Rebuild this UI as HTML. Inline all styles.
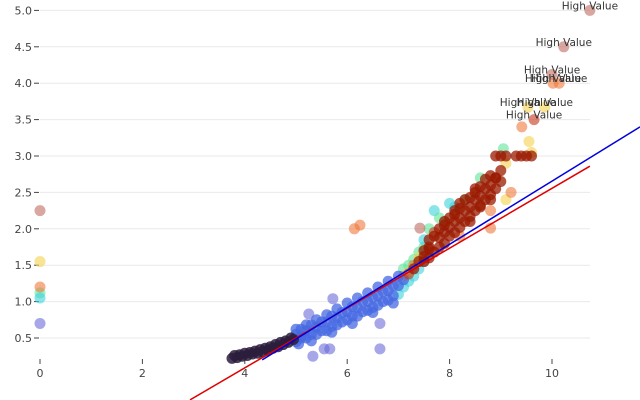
<!DOCTYPE html>
<html><head><meta charset="utf-8"><style>
html,body{margin:0;padding:0;background:#fff;}
svg{display:block;font-family:"DejaVu Sans","Liberation Sans",sans-serif;}
</style></head><body>
<svg id="chart" width="640" height="400" viewBox="0 0 640 400" xmlns="http://www.w3.org/2000/svg">
<g id="grid"></g>
<g id="axes"></g>
<g id="pts"></g>
<g id="lines"></g>
<g id="labels"></g>
</svg>
<script>
const xTicks=[0,2,4,6,8,10];
const yTicks=[0.5,1.0,1.5,2.0,2.5,3.0,3.5,4.0,4.5,5.0];
const palette={k:"#2b1d3c",b:"#4568e2",c:"#3ad4dc",g:"#5ee69a",y:"#f4d24c",o:"#ef7a3c",r:"#c8361a",R:"#9a1a00",h:"#c06a60",p:"#6a6ad8"};
const ptX=[3.75,3.85,3.95,4.05,4.15,4.25,4.35,4.45,4.55,4.65,4.75,4.85,4.0,4.2,4.4,4.6,4.8,4.95,
3.8,3.9,4.1,4.3,4.5,4.7,4.9,5.05,5.1,
5.0,5.0,5.0,5.2,5.2,5.2,5.4,5.4,5.4,5.6,5.6,5.6,5.8,5.8,5.8,6.0,6.0,6.0,6.2,6.2,6.2,6.4,6.4,6.4,6.6,6.6,6.6,6.8,6.8,6.8,7.0,7.0,7.0,
5.1,5.1,5.3,5.3,5.5,5.5,5.7,5.7,5.9,5.9,6.1,6.1,6.3,6.3,6.5,6.5,6.7,6.7,6.9,6.9,5.3,5.7,6.1,6.5,6.9,
5.72,5.25,5.33,5.55,5.66,6.64,6.64,
7.1,7.1,7.1,7.1,7.2,7.2,7.2,7.2,7.3,7.3,7.3,7.3,7.4,7.4,7.4,7.4,7.5,7.5,7.5,7.5,
7.6,7.7,7.8,8.0,8.3,8.6,9.1,8.2,8.8,9.1,9.2,7.42,8.8,7.9,8.1,7.5,
7.6,7.6,7.6,7.8,7.8,7.8,8.0,8.0,8.0,8.2,8.2,8.2,8.4,8.4,8.4,8.6,8.6,8.6,8.8,8.8,8.8,9.0,9.0,7.7,8.1,8.5,8.9,
7.7,7.7,7.9,7.9,7.9,8.1,8.1,8.1,8.3,8.3,8.3,8.5,8.5,8.5,8.7,8.7,8.7,8.9,8.9,7.5,7.6,7.9,8.2,8.4,8.6,8.8,
8.9,9.0,9.1,9.3,9.4,9.5,9.6,9.05,9.6,9.55,
6.14,6.25,0,0,0,0,0,0,
10.74,10.23,10.0,10.02,10.14,9.86,9.53,9.65,9.41];
const ptY=[0.22,0.23,0.25,0.26,0.28,0.29,0.31,0.33,0.36,0.38,0.41,0.44,0.29,0.32,0.36,0.41,0.46,0.48,
0.26,0.27,0.3,0.34,0.38,0.44,0.5,0.42,0.52,
0.45,0.55,0.62,0.5,0.6,0.68,0.55,0.65,0.75,0.6,0.72,0.82,0.68,0.78,0.9,0.75,0.86,0.98,0.8,0.92,1.05,0.88,1.0,1.12,0.95,1.08,1.2,1.02,1.15,1.28,1.1,1.22,1.35,
0.5,0.62,0.55,0.68,0.6,0.72,0.66,0.8,0.72,0.85,0.8,0.93,0.86,1.0,0.92,1.06,1.0,1.14,1.08,1.22,0.46,0.58,0.7,0.85,0.98,
1.04,0.83,0.25,0.35,0.35,0.7,0.35,
1.2,1.45,1.3,1.35,1.28,1.5,1.4,1.38,1.35,1.58,1.45,1.5,1.55,1.68,1.45,1.6,1.62,1.75,1.55,1.7,
2.0,2.25,2.15,2.35,2.4,2.7,2.9,1.9,2.25,2.4,2.5,2.01,2.01,2.1,2.3,1.85,
1.6,1.72,1.85,1.75,1.88,2.0,1.9,2.02,2.15,2.02,2.15,2.28,2.17,2.3,2.43,2.32,2.45,2.58,2.47,2.6,2.73,2.65,2.8,1.95,2.2,2.5,2.7,
1.68,1.9,1.8,1.95,2.1,1.95,2.1,2.25,2.1,2.25,2.4,2.25,2.4,2.55,2.4,2.55,2.68,2.55,2.7,1.55,1.75,2.05,2.35,2.1,2.3,2.4,
3.0,3.0,3.0,3.0,3.0,3.0,3.0,3.1,3.05,3.2,
2.0,2.05,2.25,1.55,1.2,1.12,1.05,0.7,
5.0,4.5,4.12,4.0,4.0,3.67,3.67,3.5,3.4];
const ptC=["k","k","k","k","k","k","k","k","k","k","k","k","k","k","k","k","k","k",
"k","k","k","k","k","k","k","b","b",
"b","b","b","b","b","b","b","b","b","b","b","b","b","b","b","b","b","b","b","b","b","b","b","b","b","b","b","b","b","b","c","b","b",
"b","b","b","b","b","b","b","b","b","b","b","b","b","b","b","b","b","b","b","b","b","b","b","b","b",
"p","p","p","p","p","p","p",
"c","g","b","o","c","g","y","r","c","g","R","o","R","g","c","y","R","g","c","R",
"g","c","g","c","g","g","y","o","o","y","o","h","o","g","c","c",
"R","R","R","R","R","R","R","R","R","R","R","R","R","R","R","R","R","R","R","R","R","R","R","r","R","R","R",
"R","R","R","R","R","R","R","R","R","R","R","R","R","R","R","R","R","R","R","R","R","R","R","R","R","R",
"R","R","R","R","R","R","R","g","y","y",
"o","o","h","y","o","g","c","p",
"h","h","h","o","o","y","y","r","o"];
const labelIdx=[ptX.length-9,ptX.length-8,ptX.length-7,ptX.length-6,ptX.length-5,ptX.length-4,ptX.length-3,ptX.length-2];
const redLine={x:[2.93,10.74],y:[-0.35,2.86]};
const blueLine={x:[4.34,11.72],y:[0.2,3.4]};

const NS="http://www.w3.org/2000/svg";
const sx=v=>40+v*51.2;
const sy=v=>338-(v-0.5)*72.8;
function mk(tag,attrs,parent){const e=document.createElementNS(NS,tag);for(const k in attrs)e.setAttribute(k,attrs[k]);parent.appendChild(e);return e;}
const grid=document.getElementById('grid'),axes=document.getElementById('axes'),pts=document.getElementById('pts'),lines=document.getElementById('lines'),labels=document.getElementById('labels');
yTicks.forEach(t=>{
  const g=mk('line',{x1:40,x2:590,y1:sy(t),y2:sy(t),stroke:'#e9e9e9','stroke-width':1},grid);
  
  
  const tk=mk('line',{x1:34,x2:39,y1:sy(t),y2:sy(t),stroke:'#444','stroke-width':1},axes);
  
  
  const tx=mk('text',{x:32,y:sy(t)+4,'text-anchor':'end','font-size':11,fill:'#444'},axes);
  tx.textContent=t.toFixed(1);
  
  
});
xTicks.forEach(t=>{
  const tk=mk('line',{x1:sx(t),x2:sx(t),y1:359,y2:364,stroke:'#444','stroke-width':1},axes);
  
  
  const tx=mk('text',{x:sx(t),y:377,'text-anchor':'middle','font-size':11,fill:'#444'},axes);
  tx.textContent=String(t);
  
  
});
const order=[];
for(let i=0;i<ptX.length;i++)order.push(i);
const rank={p:0,g:1,c:1,y:1,o:2,h:2,b:3,k:4,r:5,R:6};
order.sort((a,b)=>rank[ptC[a]]-rank[ptC[b]]);
order.forEach(i=>{
  const c=mk('circle',{cx:sx(ptX[i]),cy:sy(ptY[i]),r:5.5,fill:palette[ptC[i]],'fill-opacity':ptC[i]==='k'?0.85:(ptC[i]==='R'||ptC[i]==='b'?0.75:0.6)},pts);
  
  
});
const rl=mk('line',{x1:sx(redLine.x[0]),y1:sy(redLine.y[0]),x2:sx(redLine.x[1]),y2:sy(redLine.y[1]),stroke:'#e00000','stroke-width':1.5},lines);


const bl=mk('line',{x1:sx(blueLine.x[0]),y1:sy(blueLine.y[0]),x2:sx(blueLine.x[1]),y2:sy(blueLine.y[1]),stroke:'#0000dd','stroke-width':1.5},lines);


labelIdx.forEach(i=>{
  const t=mk('text',{x:sx(ptX[i]),y:sy(ptY[i])-1,'text-anchor':'middle','font-size':10.5,fill:'#333'},labels);
  t.textContent='High Value';
  
  
});
</script>
</body></html>
